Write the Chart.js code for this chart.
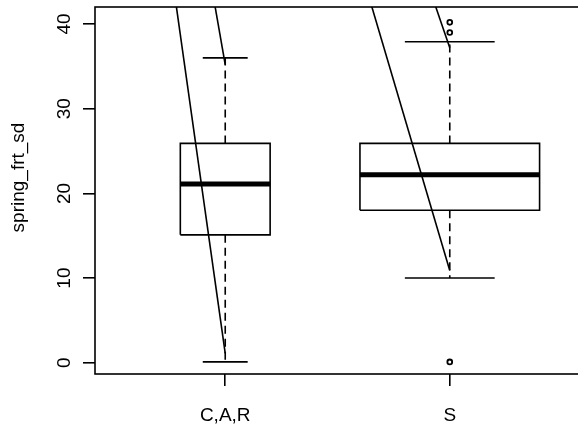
<!DOCTYPE html>
<html>
<head>
<meta charset="utf-8">
<script src="https://cdn.jsdelivr.net/npm/chart.js@4/dist/chart.umd.min.js"></script>
<style>
  html, body { margin: 0; padding: 0; background: #fff; overflow: hidden; }
  #wrap { position: relative; width: 582px; height: 432px; }
  canvas { display: block; }
</style>
</head>
<body>
<div id="wrap"><canvas id="c" width="582" height="432" style="width:582px;height:432px"></canvas></div>
<script>
// ---- data ----
const categories   = ['C,A,R', 'S'];
const lowerWhisker = [0.1, 10.0];
const lowerQuart   = [15.1, 18.0];
const medians      = [21.1, 22.2];
const upperQuart   = [25.9, 25.9];
const upperWhisker = [36.0, 37.9];
const outlierValues = [[], [40.2, 39.0, 0.1]];
const yTickValues  = [0, 10, 20, 30, 40];
const yTitle = 'spring_frt_sd';
// overlaid straight segments (start above the plot, end near each group)
const segStartX = [0.772, 0.942, 1.631, 1.912];
const segStartY = [44, 44, 44, 44];
const segEndX   = [1.0, 1.0, 2.0, 2.0];
const segEndY   = [1.1, 35.2, 10.9, 37.2];

// ---- styles / sizes ----
const boxHalfWidth = [0.2, 0.4];
const LW = 1.6;
const FONT = { family: 'Liberation Sans, Arial, Helvetica, sans-serif', size: 19 };
const TITLE_SHIFT = 13; // px the y title sits above the plot-area centre

const datasets = [];
const lineDs = (pts, extra) => Object.assign({
  data: pts, showLine: true, borderColor: '#000', backgroundColor: '#000',
  borderWidth: LW, pointRadius: 0, pointHoverRadius: 0, tension: 0, fill: false,
  borderJoinStyle: 'miter', borderCapStyle: 'butt'
}, extra || {});

categories.forEach((cat, i) => {
  const x = i + 1, w = boxHalfWidth[i], cw = w / 2;
  datasets.push(lineDs([{x, y: upperQuart[i]}, {x, y: upperWhisker[i]}], {borderDash: [8, 5]}));
  datasets.push(lineDs([{x, y: lowerQuart[i]}, {x, y: lowerWhisker[i]}], {borderDash: [8, 5]}));
  datasets.push(lineDs([{x: x - cw, y: upperWhisker[i]}, {x: x + cw, y: upperWhisker[i]}]));
  datasets.push(lineDs([{x: x - cw, y: lowerWhisker[i]}, {x: x + cw, y: lowerWhisker[i]}]));
  datasets.push(lineDs([
    {x: x - w, y: lowerQuart[i]}, {x: x + w, y: lowerQuart[i]},
    {x: x + w, y: upperQuart[i]}, {x: x - w, y: upperQuart[i]},
    {x: x - w, y: lowerQuart[i]}
  ]));
  datasets.push(lineDs([{x: x - w, y: medians[i]}, {x: x + w, y: medians[i]}], {borderWidth: 5}));
  if (outlierValues[i].length) {
    datasets.push({
      data: outlierValues[i].map(v => ({x, y: v})), showLine: false,
      pointRadius: 2.4, pointBorderWidth: 1.8, pointBorderColor: '#000',
      pointBackgroundColor: '#fff', pointStyle: 'circle'
    });
  }
});
segStartX.forEach((sx, k) => {
  datasets.push(lineDs([{x: sx, y: segStartY[k]}, {x: segEndX[k], y: segEndY[k]}]));
});

const frame = {
  id: 'frame',
  afterLayout(chart) {
    // the axis title is centred on the scale box: shorten it temporarily so the title sits higher
    chart.scales.y.bottom -= 2 * TITLE_SHIFT;
    chart.$shifted = true;
  },
  beforeDatasetsDraw(chart) {
    if (chart.$shifted) { chart.scales.y.bottom += 2 * TITLE_SHIFT; chart.$shifted = false; }
  },
  afterDraw(chart) {
    const a = chart.chartArea, ctx = chart.ctx;
    ctx.save();
    ctx.strokeStyle = '#000';
    ctx.lineWidth = LW;
    ctx.strokeRect(a.left, a.top, a.right - a.left, a.bottom - a.top);
    ctx.restore();
  }
};

new Chart(document.getElementById('c'), {
  type: 'scatter',
  data: { datasets },
  options: {
    responsive: false, maintainAspectRatio: false, animation: false,
    devicePixelRatio: 1,
    layout: { autoPadding: false, padding: { left: 0, top: 7, right: 2, bottom: 0 } },
    plugins: { legend: { display: false }, tooltip: { enabled: false } },
    scales: {
      x: {
        type: 'linear', min: 0.42, max: 2.58,
        afterBuildTicks: s => { s.ticks = categories.map((c, i) => ({ value: i + 1 })); },
        afterFit: s => { s.height = 58; s.paddingLeft = 0; s.paddingRight = 0; },
        ticks: {
          color: '#000', font: FONT, padding: 18, maxRotation: 0, minRotation: 0,
          callback: v => categories[Math.round(v) - 1]
        },
        grid: { drawOnChartArea: false, drawTicks: true, tickLength: 12, tickColor: '#000', lineWidth: LW },
        border: { display: false }
      },
      y: {
        type: 'linear', min: -1.33, max: 42.01,
        afterBuildTicks: s => { s.ticks = yTickValues.map(v => ({ value: v })); },
        afterFit: s => { s.width = 95; s.paddingTop = 0; s.paddingBottom = 0; },
        ticks: {
          color: '#000', font: FONT, padding: 8, minRotation: 90, maxRotation: 90,
          crossAlign: 'center', callback: v => String(v)
        },
        grid: { drawOnChartArea: false, drawTicks: true, tickLength: 12, tickColor: '#000', lineWidth: LW },
        border: { display: false },
        title: { display: true, text: yTitle, color: '#000', font: FONT, padding: { top: 7, bottom: 0 } }
      }
    }
  },
  plugins: [frame]
});
</script>
</body>
</html>
